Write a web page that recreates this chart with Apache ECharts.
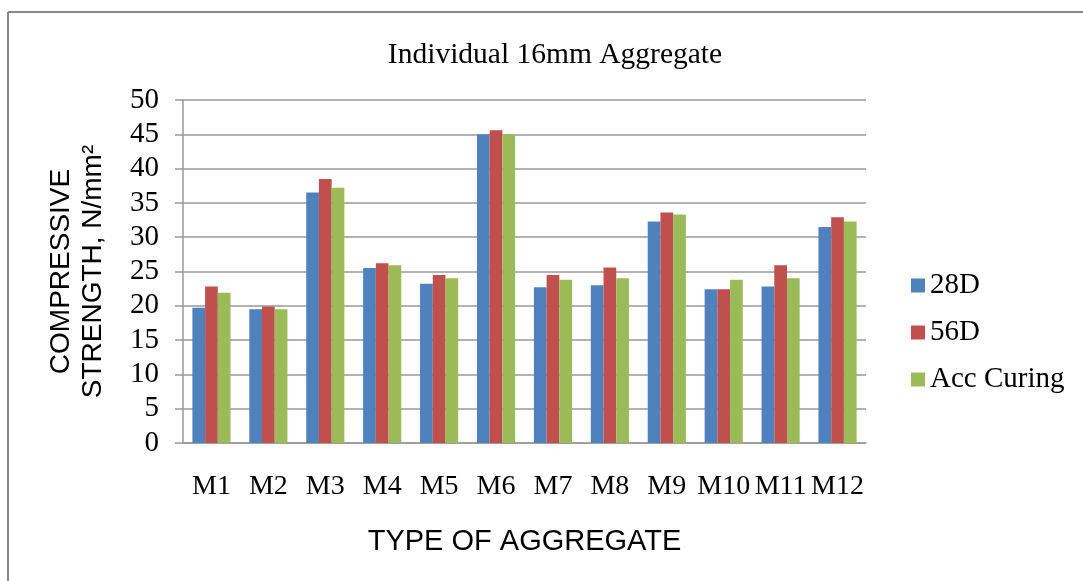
<!DOCTYPE html>
<html>
<head>
<meta charset="utf-8">
<script src="https://cdn.jsdelivr.net/npm/echarts@6/dist/echarts.min.js"></script>
<style>html,body{margin:0;padding:0;background:#fff;}#c{width:1083px;height:581px;}</style>
</head>
<body>
<div id="c"></div>
<script>
const categories = ['M1','M2','M3','M4','M5','M6','M7','M8','M9','M10','M11','M12'];
const s28D = [19.7, 19.5, 36.5, 25.5, 23.2, 45.0, 22.7, 23.0, 32.3, 22.4, 22.8, 31.5];
const s56D = [22.8, 19.9, 38.5, 26.2, 24.5, 45.6, 24.5, 25.6, 33.6, 22.4, 25.9, 32.9];
const sAcc = [21.9, 19.5, 37.2, 25.9, 24.0, 45.0, 23.8, 24.0, 33.3, 23.8, 24.0, 32.3];
const yTicks = {min: 0, max: 50, interval: 5};

const chart = echarts.init(document.getElementById('c'));
const serif = 'Liberation Serif';
const sans = 'Liberation Sans';
chart.setOption({
  animation: false,
  backgroundColor: '#fff',
  title: {
    text: 'Individual 16mm Aggregate',
    left: 550, top: 35, textAlign: 'center',
    textStyle: {fontFamily: serif, fontWeight: 'normal', fontSize: 29.5, color: '#000'}
  },
  graphic: [
    {type: 'line', shape: {x1: 8, y1: 12, x2: 1083, y2: 12}, style: {stroke: '#888', lineWidth: 2}},
    {type: 'line', shape: {x1: 8, y1: 12, x2: 8, y2: 581}, style: {stroke: '#888', lineWidth: 2}}
  ],
  legend: {
    orient: 'vertical', left: 906, top: 266, itemWidth: 14, itemHeight: 14, itemGap: 18,
    icon: 'rect',
    textStyle: {fontFamily: serif, fontSize: 29, color: '#000'},
    data: ['28D','56D','Acc Curing']
  },
  grid: {left: 183, right: 217, top: 100, bottom: 138, containLabel: false},
  xAxis: {
    type: 'category', data: categories,
    name: 'TYPE OF AGGREGATE', nameLocation: 'middle', nameGap: 84,
    nameTextStyle: {fontFamily: sans, fontSize: 29, color: '#000'},
    axisLine: {show: true, lineStyle: {color: '#999', width: 1.5}},
    axisTick: {show: false},
    axisLabel: {fontFamily: serif, fontSize: 28, color: '#000', margin: 30, interval: 0}
  },
  yAxis: {
    type: 'value', min: yTicks.min, max: yTicks.max, interval: yTicks.interval,
    name: 'COMPRESSIVE\nSTRENGTH, N/mm²', nameLocation: 'middle', nameGap: 74,
    nameTextStyle: {fontFamily: sans, fontSize: 28, color: '#000', lineHeight: 32},
    axisLine: {show: true, lineStyle: {color: '#999', width: 1.5}},
    axisTick: {show: true, length: 8, lineStyle: {color: '#999', width: 1.5}},
    axisLabel: {fontFamily: serif, fontSize: 29, color: '#000', margin: 24},
    splitLine: {lineStyle: {color: '#999', width: 1.5}}
  },
  series: [
    {name: '28D', type: 'bar', data: s28D, barGap: '0%', barCategoryGap: '33%', itemStyle: {color: '#4F81BD'}},
    {name: '56D', type: 'bar', data: s56D, barGap: '0%', barCategoryGap: '33%', itemStyle: {color: '#C0504D'}},
    {name: 'Acc Curing', type: 'bar', data: sAcc, barGap: '0%', barCategoryGap: '33%', itemStyle: {color: '#9BBB59'}}
  ]
});
</script>
</body>
</html>
